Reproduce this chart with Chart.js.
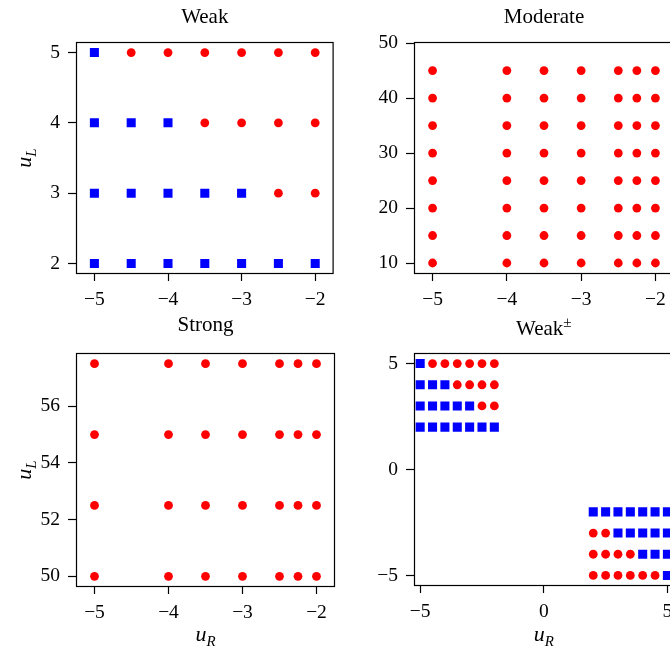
<!DOCTYPE html>
<html>
<head>
<meta charset="utf-8">
<script src="https://cdn.jsdelivr.net/npm/chart.js@4.4.1/dist/chart.umd.min.js"></script>
<style>
  html, body { margin: 0; padding: 0; background: #fff; overflow: hidden; }
  body { width: 670px; height: 651px; position: relative; }
  canvas.panel { position: absolute; }
</style>
</head>
<body>
<canvas id="weak" class="panel" width="340" height="310" style="left:0;top:0"></canvas>
<canvas id="moderate" class="panel" width="340" height="310" style="left:340px;top:0"></canvas>
<canvas id="strong" class="panel" width="340" height="341" style="left:0;top:310px"></canvas>
<canvas id="weakpm" class="panel" width="340" height="341" style="left:340px;top:310px"></canvas>
<script>
// Weak panel (u_R, u_L) points
const weakBlue = [[-5,5],[-5,4],[-4.5,4],[-4,4],[-5,3],[-4.5,3],[-4,3],[-3.5,3],[-3,3],
  [-5,2],[-4.5,2],[-4,2],[-3.5,2],[-3,2],[-2.5,2],[-2,2]];
const weakRed = [[-4.5,5],[-4,5],[-3.5,5],[-3,5],[-2.5,5],[-2,5],[-3.5,4],[-3,4],[-2.5,4],[-2,4],
  [-2.5,3],[-2,3]];

// Moderate / Strong grids (all red)
const moderateX = [-5, -4, -3.5, -3, -2.5, -2.25, -2];
const moderateY = [10, 15, 20, 25, 30, 35, 40, 45];
const strongX = [-5, -4, -3.5, -3, -2.5, -2.25, -2];
const strongY = [50, 52.5, 55, 57.5];

// Weak± panel points
const pmBlue = [[-5,5],[-5,4],[-4.5,4],[-4,4],[-5,3],[-4.5,3],[-4,3],[-3.5,3],[-3,3],
  [-5,2],[-4.5,2],[-4,2],[-3.5,2],[-3,2],[-2.5,2],[-2,2],
  [2,-2],[2.5,-2],[3,-2],[3.5,-2],[4,-2],[4.5,-2],[5,-2],
  [3,-3],[3.5,-3],[4,-3],[4.5,-3],[5,-3],
  [4,-4],[4.5,-4],[5,-4],
  [5,-5]];
const pmRed = [[-4.5,5],[-4,5],[-3.5,5],[-3,5],[-2.5,5],[-2,5],[-3.5,4],[-3,4],[-2.5,4],[-2,4],
  [-2.5,3],[-2,3],
  [2,-3],[2.5,-3],
  [2,-4],[2.5,-4],[3,-4],[3.5,-4],
  [2,-5],[2.5,-5],[3,-5],[3.5,-5],[4,-5],[4.5,-5]];

// tick labels
const xTicksNeg = [-5, -4, -3, -2];
const xTicksPm = [-5, 0, 5];
const weakYTicks = [2, 3, 4, 5];
const moderateYTicks = [10, 20, 30, 40, 50];
const strongYTicks = [50, 52, 54, 56];
const pmYTicks = [-5, 0, 5];

const FONT = 'Liberation Serif';

function toPoints(pairs) {
  return pairs.map(p => ({ x: p[0], y: p[1] }));
}

function gridPoints(xs, ys) {
  const pts = [];
  ys.forEach(y => xs.forEach(x => pts.push({ x, y })));
  return pts;
}

function fmt(v) {
  return v < 0 ? '\u2212' + Math.abs(v) : String(v);
}

function partFont(kind) {
  if (kind === 'it') return `italic 22px "${FONT}"`;
  if (kind === 'itsub') return `italic 15px "${FONT}"`;
  if (kind === 'sup') return `15px "${FONT}"`;
  return `21px "${FONT}"`;
}

function partShift(kind) {
  if (kind === 'itsub') return 5;
  if (kind === 'sup') return -8;
  return 0;
}

// draws a centred run of text pieces with sub/superscripts, baseline at y
function drawRich(ctx, parts, x, y) {
  const widths = parts.map(p => { ctx.font = partFont(p[1]); return ctx.measureText(p[0]).width; });
  let cx = x - widths.reduce((a, b) => a + b, 0) / 2;
  ctx.textAlign = 'left';
  ctx.textBaseline = 'alphabetic';
  parts.forEach((p, i) => {
    ctx.font = partFont(p[1]);
    ctx.fillText(p[0], cx, y + partShift(p[1]));
    cx += widths[i];
  });
}

const panelText = {
  id: 'panelText',
  afterDraw(chart, args, opts) {
    const ctx = chart.ctx;
    const a = chart.chartArea;
    ctx.save();
    ctx.strokeStyle = '#000';
    ctx.lineWidth = 1.2;
    ctx.strokeRect(a.left + 0.5, a.top + 0.5, a.right - a.left - 1, a.bottom - a.top - 1);
    ctx.fillStyle = '#000';
    const mid = (a.left + a.right) / 2;
    if (opts.title) drawRich(ctx, opts.title, mid, opts.titleY);
    if (opts.xLabel) drawRich(ctx, opts.xLabel, mid, opts.xLabelY);
    if (opts.yLabel) {
      ctx.translate(opts.yLabelX, (a.top + a.bottom) / 2);
      ctx.rotate(-Math.PI / 2);
      drawRich(ctx, opts.yLabel, 0, 0);
    }
    ctx.restore();
  }
};

function makePanel(id, cfg) {
  const datasets = [];
  if (cfg.blue) {
    datasets.push({
      data: cfg.blue,
      pointStyle: 'rect',
      pointRadius: 6.4,
      backgroundColor: '#0000ff',
      borderWidth: 0
    });
  }
  datasets.push({
    data: cfg.red,
    pointStyle: 'circle',
    pointRadius: 4.4,
    backgroundColor: '#ff0000',
    borderWidth: 0
  });

  const tickFont = { family: FONT, size: 19.5 };
  new Chart(document.getElementById(id), {
    type: 'scatter',
    data: { datasets },
    plugins: [panelText],
    options: {
      responsive: false,
      animation: false,
      events: [],
      layout: { padding: cfg.padding },
      scales: {
        x: {
          type: 'linear',
          min: cfg.xRange[0],
          max: cfg.xRange[1],
          afterBuildTicks: s => { s.ticks = cfg.xTicks.map(v => ({ value: v })); },
          afterFit: s => { s.height = 36; },
          ticks: { callback: v => fmt(v), color: '#000', font: tickFont, padding: 7, maxRotation: 0 },
          grid: { drawOnChartArea: false, tickLength: 7, tickColor: '#000', tickWidth: 1.2 },
          border: { display: false }
        },
        y: {
          type: 'linear',
          min: cfg.yRange[0],
          max: cfg.yRange[1],
          afterBuildTicks: s => { s.ticks = cfg.yTicks.map(v => ({ value: v })); },
          afterFit: s => { s.width = cfg.yWidth; },
          ticks: { callback: v => fmt(v), color: '#000', font: tickFont, padding: 8 },
          grid: { drawOnChartArea: false, tickLength: 8, tickColor: '#000', tickWidth: 1.2 },
          border: { display: false }
        }
      },
      plugins: {
        legend: { display: false },
        tooltip: { enabled: false },
        panelText: cfg.text
      }
    }
  });
}

makePanel('weak', {
  blue: toPoints(weakBlue),
  red: toPoints(weakRed),
  xRange: [-5.25, -1.75], yRange: [1.85, 5.15],
  xTicks: xTicksNeg, yTicks: weakYTicks,
  yWidth: 76,
  padding: { left: 0, top: 42, right: 5, bottom: 0 },
  text: { title: [['Weak', 'rm']], titleY: 23, yLabel: [['u', 'it'], ['L', 'itsub']], yLabelX: 31 }
});

makePanel('moderate', {
  red: gridPoints(moderateX, moderateY),
  xRange: [-5.25, -1.75], yRange: [8, 50.2],
  xTicks: xTicksNeg, yTicks: moderateYTicks,
  yWidth: 74,
  padding: { left: 0, top: 42, right: 6, bottom: 0 },
  text: { title: [['Moderate', 'rm']], titleY: 23 }
});

makePanel('strong', {
  red: gridPoints(strongX, strongY),
  xRange: [-5.25, -1.75], yRange: [49.625, 57.875],
  xTicks: xTicksNeg, yTicks: strongYTicks,
  yWidth: 76,
  padding: { left: 0, top: 43, right: 5, bottom: 28 },
  text: {
    title: [['Strong', 'rm']], titleY: 21,
    xLabel: [['u', 'it'], ['R', 'itsub']], xLabelY: 331,
    yLabel: [['u', 'it'], ['L', 'itsub']], yLabelX: 31
  }
});

makePanel('weakpm', {
  blue: toPoints(pmBlue),
  red: toPoints(pmRed),
  xRange: [-5.25, 5.25], yRange: [-5.5, 5.5],
  xTicks: xTicksPm, yTicks: pmYTicks,
  yWidth: 74,
  padding: { left: 0, top: 43, right: 6, bottom: 29 },
  text: {
    title: [['Weak', 'rm'], ['\u00b1', 'sup']], titleY: 25,
    xLabel: [['u', 'it'], ['R', 'itsub']], xLabelY: 331
  }
});
</script>
</body>
</html>
